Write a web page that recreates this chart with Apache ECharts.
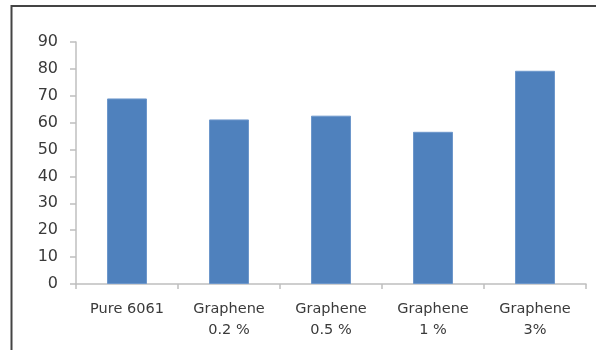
<!DOCTYPE html>
<html>
<head>
<meta charset="utf-8">
<script src="https://cdn.jsdelivr.net/npm/echarts@6/dist/echarts.min.js"></script>
<style>
  html, body { margin: 0; padding: 0; background: #fff; }
  #chart { width: 596px; height: 350px; }
</style>
</head>
<body>
<div id="chart"></div>
<script>
const categories = ['Pure 6061', 'Graphene\n0.2 %', 'Graphene\n0.5 %', 'Graphene\n1 %', 'Graphene\n3%'];
const values = [69, 61.2, 62.6, 56.6, 79.3];
const yTicks = { min: 0, max: 90, step: 10 };

const chart = echarts.init(document.getElementById('chart'), null, { renderer: 'canvas' });
const labelColor = '#3a3a3a';
const axisColor = '#bfbfbf';

chart.setOption({
  animation: false,
  backgroundColor: '#fff',
  grid: { left: 76, right: 10, top: 42, bottom: 66, containLabel: false },
  graphic: [
    { type: 'line', shape: { x1: 11, y1: 6, x2: 596, y2: 6 }, style: { stroke: '#444', lineWidth: 2 } },
    { type: 'line', shape: { x1: 11.5, y1: 5, x2: 11.5, y2: 350 }, style: { stroke: '#444', lineWidth: 2 } }
  ],
  xAxis: {
    type: 'category',
    data: categories,
    axisLine: { show: true, lineStyle: { color: axisColor, width: 1.5 } },
    axisTick: { show: true, length: 5, alignWithLabel: false, lineStyle: { color: axisColor, width: 1.5 } },
    axisLabel: {
      color: labelColor, fontFamily: 'DejaVu Sans', fontSize: 14.5,
      margin: 15, lineHeight: 21, interval: 0
    },
    splitLine: { show: false }
  },
  yAxis: {
    type: 'value',
    min: yTicks.min, max: yTicks.max, interval: yTicks.step,
    axisLine: { show: true, lineStyle: { color: axisColor, width: 1.5 } },
    axisTick: { show: true, length: 6, lineStyle: { color: axisColor, width: 1.5 } },
    axisLabel: { color: labelColor, fontFamily: 'DejaVu Sans', fontSize: 16, margin: 18 },
    splitLine: { show: false }
  },
  series: [{
    type: 'bar',
    data: values,
    barWidth: 40,
    itemStyle: { color: '#4f81bd', borderColor: '#6d97cb', borderWidth: 1 }
  }]
});
</script>
</body>
</html>
